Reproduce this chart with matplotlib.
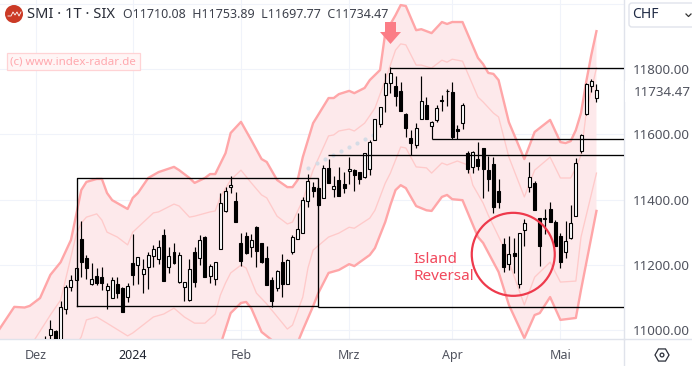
import numpy as np
import matplotlib
matplotlib.use("Agg")
import matplotlib.pyplot as plt
from matplotlib.patches import Ellipse, FancyBboxPatch, Rectangle, Polygon, RegularPolygon, Circle

plt.rcParams['font.family'] = ['Noto Sans', 'DejaVu Sans']

opens = [10930,10985,10997,10965,11063,11131,11152,11278,11220,11141,11165,11162,11124,11099,11140,11128,11100,11204,11200,11173,
         11192,11228,11219,11290,11192,11238,11148,11131,11092,11238,11222,11284,11165,11157,11247,11365,11437,11394,11266,11288,
         11255,11316,11266,11220,11153,11130,11207,11140,11239,11280,11298,11394,11437,11435,11406,11496,11431,11459,11447,11486,
         11489,11483,11469,11493,11581,11632,11719,11756,11748,11733,11663,11588,11568,11648,11690,11626,11645,11705,11732,11729,
         11616,11634,11542,11501,11523,11557,11490,11508,11426,11263,11203,11236,11142,11306,11439,11450,11343,11344,11370,11331,
         11287,11238,11283,11350,11549,11661,11747,11710.08]
closes = [10965,11003,10954,11071,11131,11153,11189,11209,11191,11155,11145,11145,11134,11152,11114,11056,11136,11169,11223,11186,
          11229,11247,11253,11151,11226,11206,11229,11148,11186,11148,11275,11162,11195,11207,11388,11427,11444,11332,11212,11235,
          11275,11243,11207,11138,11090,11182,11141,11215,11284,11309,11398,11457,11427,11384,11496,11451,11440,11412,11436,11493,
          11475,11462,11543,11575,11646,11683,11758,11787,11718,11672,11620,11574,11618,11701,11648,11638,11680,11703,11733,11591,
          11611,11690,11494,11545,11504,11493,11464,11378,11393,11194,11232,11228,11296,11327,11468,11368,11258,11341,11331,11258,
          11209,11272,11327,11511,11599,11753,11764,11734.47]
highs = [10982,11031,11000,11090,11137,11169,11189,11333,11230,11205,11189,11193,11144,11162,11162,11131,11143,11293,11223,11218,
         11238,11260,11275,11309,11253,11266,11238,11148,11218,11253,11290,11287,11201,11207,11419,11439,11472,11422,11298,11299,
         11293,11319,11266,11257,11162,11184,11233,11217,11291,11360,11407,11477,11454,11441,11505,11523,11473,11499,11485,11529,
         11493,11483,11543,11582,11648,11683,11787,11805,11779,11759,11664,11613,11634,11779,11713,11640,11690,11720,11738,11759,
         11628,11695,11549,11550,11575,11557,11533,11529,11463,11281,11288,11281,11296,11339,11514,11458,11343,11370,11392,11337,
         11298,11334,11383,11526,11600,11758,11770,11753.89]
lows = [10920,10969,10940,10950,11049,11120,11152,11163,11157,11139,11139,11124,11065,11097,11097,11056,11085,11138,11141,11114,
        11127,11194,11202,11151,11176,11202,11143,11090,11090,11132,11200,11162,11145,11139,11247,11363,11421,11332,11196,11233,
        11223,11194,11204,11138,11070,11120,11102,11140,11233,11280,11296,11378,11409,11380,11406,11451,11409,11412,11421,11447,
        11427,11447,11465,11475,11581,11623,11669,11727,11687,11672,11592,11535,11559,11648,11648,11584,11638,11672,11687,11584,
        11584,11616,11482,11482,11490,11406,11427,11360,11375,11177,11185,11176,11130,11258,11424,11368,11197,11295,11331,11258,
        11191,11222,11280,11350,11543,11660,11730,11697.77]

upper_outer_x = [-9,-6,-4,-3,-1,1,3,5,6,7,8,10,11,12,13,16,17,18,20,22,25,26,28,29,31,32,33,35,36,38,40,42,43,45,47,48,49,50,52,55,56,57,59,60,62,63,65,66,68,69,70,71,72,73,75,77,78,79,81,84,85,86,87,88,90,93,95,98,100,101,102,103,104,105,106,107]
upper_outer = [11000,11071,11069,11074,11098,11169,11208,11276,11352,11429,11454,11463,11463,11420,11398,11371,11405,11420,11466,11484,11500,11490,11466,11451,11466,11478,11478,11542,11604,11638,11582,11524,11515,11460,11438,11438,11460,11530,11634,11711,11711,11723,11733,11726,11742,11766,11797,11910,11965,11996,11993,11956,11919,11922,11910,11944,11938,11944,11944,11834,11815,11788,11785,11766,11637,11524,11607,11644,11576,11573,11579,11613,11665,11760,11843,11916]
upper_inner_x = [-2,1,3,5,6,7,8,10,11,12,14,16,17,21,22,25,26,28,29,32,33,34,36,38,40,42,43,45,47,48,50,52,55,56,57,59,60,62,64,66,67,68,69,70,72,73,75,77,78,79,81,84,85,87,88,90,93,95,98,100,102,103,104,105,106,107]
upper_inner = [10972,11046,11092,11224,11291,11328,11346,11356,11337,11300,11285,11261,11300,11359,11362,11386,11380,11346,11349,11362,11365,11408,11460,11490,11451,11414,11405,11349,11325,11331,11398,11490,11595,11598,11610,11616,11610,11634,11680,11766,11812,11858,11877,11874,11812,11812,11803,11827,11821,11830,11824,11714,11699,11665,11653,11530,11408,11490,11530,11466,11466,11497,11536,11665,11735,11803]
lower_inner_x = [6,7,8,10,12,16,17,21,23,25,27,29,31,33,34,35,36,38,39,41,43,47,48,50,51,52,55,57,59,60,63,64,66,67,69,70,72,74,75,77,78,80,82,83,85,86,89,93,95,98,100,103,104,107]
lower_inner = [10954,10979,11031,11040,11021,10982,10991,11040,11049,11067,11040,11021,11021,11049,11107,11144,11175,11199,11190,11113,11080,11003,11015,11101,11190,11245,11285,11297,11315,11312,11343,11367,11450,11481,11561,11558,11500,11497,11481,11512,11506,11518,11506,11444,11389,11352,11254,11077,11162,11208,11147,11150,11285,11481]
lower_outer_x = [-9,10,30,34,36,38,39,40,42,44,47,48,50,52,53,55,57,59,60,63,64,66,67,68,69,70,72,74,75,77,78,79,81,84,85,88,90,93,95,96,98,100,103,104,107]
lower_outer = [10600,10700,10800,10954,11052,11083,11086,11067,10994,10969,10923,10923,11000,11073,11113,11175,11184,11202,11196,11230,11251,11331,11383,11429,11444,11435,11380,11367,11365,11408,11414,11401,11398,11285,11267,11178,11077,10975,11046,11052,11101,11031,11037,11123,11365]

dot_x = [51.07,52.7,54.3,55.8,57.4,59.0,60.5,62.1,63.7]
dot_y = [11497,11512,11523,11536,11549,11561,11573,11585,11598]

y_ticks = [11000, 11200, 11400, 11600, 11800]
x_ticks = [-1.85, 17, 38, 59, 79, 100]
x_labels = ['Dez', '2024', 'Feb', 'Mrz', 'Apr', 'Mai']
last_price = 11734.47

W, H = 692, 366
fig = plt.figure(figsize=(W/100, H/100), dpi=100, facecolor='white')
ax = fig.add_axes([0, (H-339)/H, 624/W, 339/H])
x0, dx = 45.2, 5.152
ax.set_xlim(-x0/dx, (624-x0)/dx)
ax.set_ylim(10972.5, 12011.5)

GRID = '#f0f3fa'
AXC = '#e0e3eb'
LAB = '#50535e'
ax.set_yticks(y_ticks + [12000])
ax.set_yticklabels([f'{v}.00' for v in y_ticks] + [''])
ax.yaxis.tick_right()
ax.set_xticks(x_ticks)
ax.set_xticklabels(x_labels)
ax.tick_params(axis='y', length=0, pad=6.5, labelsize=9.6, labelcolor=LAB)
ax.tick_params(axis='x', length=0, pad=7.5, labelsize=9, labelcolor=LAB)
ax.get_xticklabels()[1].set_fontweight('bold')
ax.get_xticklabels()[1].set_color('#1f2430')
ax.grid(True, color=GRID, lw=0.8)
ax.set_axisbelow(True)
for s in ['top', 'left']:
    ax.spines[s].set_visible(False)
for s in ['right', 'bottom']:
    ax.spines[s].set_color(AXC)
    ax.spines[s].set_linewidth(1.0)

ax.fill(upper_outer_x + lower_outer_x[::-1], upper_outer + lower_outer[::-1],
        color='#fde9eb', lw=0, zorder=1)
ax.plot(upper_inner_x, upper_inner, color='#ffcaca', lw=0.95, zorder=2)
ax.plot(lower_inner_x, lower_inner, color='#ffcaca', lw=0.95, zorder=2)
ax.plot(upper_outer_x, upper_outer, color='#ffa6a8', lw=1.7, zorder=2)
ax.plot(lower_outer_x, lower_outer, color='#ffa6a8', lw=1.7, zorder=2)

ax.scatter(dot_x, dot_y, s=9, marker='o', color='#d5dce6', lw=0, zorder=3)

idx = np.arange(len(opens))
o, c, h, l = map(np.array, (opens, closes, highs, lows))
ax.vlines(idx, l, h, color='black', lw=0.85, zorder=4)
up = c >= o
ax.bar(idx[up], (c-o)[up], bottom=o[up], width=0.58, facecolor='white', edgecolor='black', lw=0.8, zorder=5)
ax.bar(idx[~up], (c-o)[~up], bottom=o[~up], width=0.58, facecolor='black', edgecolor='black', lw=0.8, zorder=5)

# trend-line drawings
xr = (624-x0)/dx
ax.plot([6.08, 6.08, 53, 53, 6.08], [11075, 11467, 11467, 11075, 11075], color='black', lw=0.95, zorder=6)
ax.hlines([11802, 11584.5, 11536.4, 11071], [67, 75, 54.8, 53], xr, color='black', lw=0.95, zorder=6)
ax.vlines(53, 11071, 11075, color='black', lw=0.95, zorder=6)
ax.add_patch(Ellipse((90.85, 11232), 83/dx, 83*3.065, fill=False, ec='#ee3a4c', lw=1.6, zorder=7))

ov = fig.add_axes([0, 0, 1, 1], facecolor='none')
ov.set_xlim(0, W); ov.set_ylim(H, 0); ov.axis('off')
ov.plot([624, 624], [339, 366], color=AXC, lw=1.0)
ov.plot([624, 692], [339, 339], color=AXC, lw=1.0)

# header
ov.add_patch(Circle((14, 14), 9, color='#cb3a26', lw=0))
ov.plot([8, 11, 13, 15, 17, 19, 21], [16, 16, 12, 15, 12, 16, 12], color='white', lw=0.6)
ov.text(27, 14.5, 'SMI · 1T · SIX', fontsize=10.6, color='#2a2e39', va='center', ha='left')
ov.text(123, 14.5, 'O11710.08  H11753.89  L11697.77  C11734.47', fontsize=8.95, color='#3c404b', va='center', ha='left')

# watermark
ov.add_patch(Rectangle((6.5, 52.5), 133, 17, fc='#fff5f5', ec='#ffd3d5', lw=0.9))
ov.text(9.5, 61.5, '(c) www.index-radar.de', fontsize=8.3, color='#ffa8ae', va='center', ha='left')

# arrow
ov.add_patch(Polygon([(385, 22), (396, 22), (396, 32), (401, 32), (390.5, 44), (380, 32), (385, 32)],
                     closed=True, fc='#fb7d86', lw=0, zorder=8))

# annotation
ov.text(413.5, 259.5, 'Island', fontsize=11, color='#f1485c', va='center', ha='left')
ov.text(413.5, 276.5, 'Reversal', fontsize=11, color='#f1485c', va='center', ha='left')

# currency button
ov.add_patch(FancyBboxPatch((629, 3), 70, 24, boxstyle='round,pad=0,rounding_size=3', fc='white', ec=AXC, lw=1.0, clip_on=True))
ov.text(632, 15, 'CHF', fontsize=10, color='#1f2a44', va='center', ha='left')
ov.plot([686, 688.5, 691], [14, 16.5, 14], color='#333333', lw=0.9)

# last price
ov.add_patch(Rectangle((625, 81), 67, 21, fc='white', lw=0))
ov.text(634, 92, f'{last_price:.2f}', fontsize=9.6, color=LAB, va='center', ha='left')

# settings icon
ov.add_patch(RegularPolygon((662, 355), 6, radius=7, orientation=np.pi/6, fill=False, ec='#2a2e39', lw=0.9))
ov.add_patch(Circle((662, 355), 1.9, fill=False, ec='#2a2e39', lw=0.9))

fig.savefig('out.png', dpi=100)
